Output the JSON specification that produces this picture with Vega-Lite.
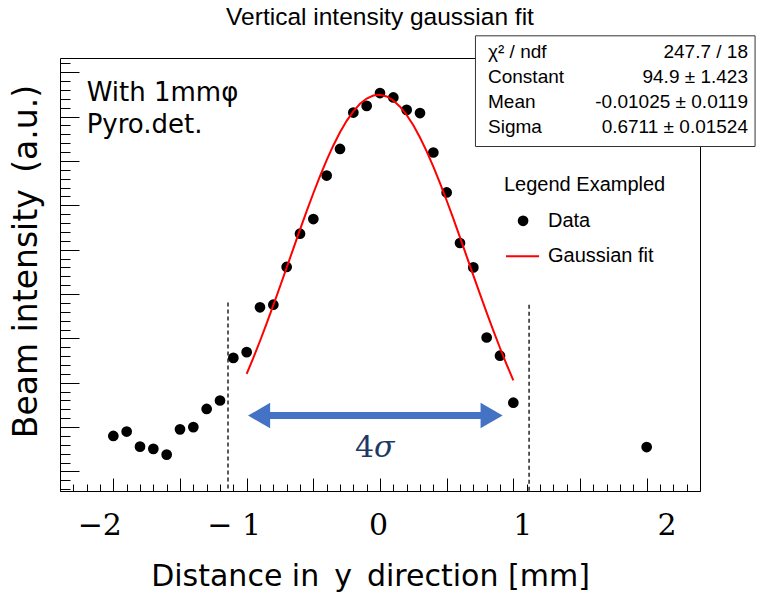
{
  "$schema": "https://vega.github.io/schema/vega-lite/v6.json",
  "width": 640,
  "height": 433,
  "autosize": {"type": "none"},
  "padding": {"left": 60, "top": 58, "right": 61, "bottom": 103},
  "background": "white",
  "config": {"view": {"stroke": "black", "strokeWidth": 1}, "font": "Liberation Sans"},
  "title": {"text": "Vertical intensity gaussian fit", "font": "Liberation Sans", "fontSize": 24.5, "fontWeight": "normal", "color": "black", "anchor": "middle", "frame": "group", "baseline": "alphabetic", "offset": 32, "dy": 46},
  "datasets": {
    "points": [
      {"x": -2.0, "y": 18.0}, {"x": -1.9, "y": 19.0}, {"x": -1.8, "y": 15.6}, {"x": -1.7, "y": 15.1},
      {"x": -1.6, "y": 13.8}, {"x": -1.5, "y": 19.5}, {"x": -1.4, "y": 20.0}, {"x": -1.3, "y": 24.1},
      {"x": -1.2, "y": 26.0}, {"x": -1.1, "y": 35.6}, {"x": -1.0, "y": 36.9}, {"x": -0.9, "y": 47.0},
      {"x": -0.8, "y": 47.6}, {"x": -0.7, "y": 56.1}, {"x": -0.6, "y": 63.6}, {"x": -0.5, "y": 66.9},
      {"x": -0.4, "y": 76.7}, {"x": -0.3, "y": 82.7}, {"x": -0.2, "y": 90.9}, {"x": -0.1, "y": 92.4},
      {"x": 0.0, "y": 95.3}, {"x": 0.1, "y": 94.3}, {"x": 0.2, "y": 91.5}, {"x": 0.3, "y": 90.8},
      {"x": 0.4, "y": 81.9}, {"x": 0.5, "y": 72.9}, {"x": 0.6, "y": 61.5}, {"x": 0.7, "y": 56.0},
      {"x": 0.8, "y": 40.2}, {"x": 0.9, "y": 36.1}, {"x": 1.0, "y": 25.5}, {"x": 2.0, "y": 15.5}
    ],
    "fit": [
      {"x": -1.00, "y": 31.99}, {"x": -0.95, "y": 35.60}, {"x": -0.90, "y": 39.41}, {"x": -0.85, "y": 43.38},
      {"x": -0.80, "y": 47.48}, {"x": -0.75, "y": 51.69}, {"x": -0.70, "y": 55.96}, {"x": -0.65, "y": 60.25},
      {"x": -0.60, "y": 64.50}, {"x": -0.55, "y": 68.68}, {"x": -0.50, "y": 72.72}, {"x": -0.45, "y": 76.57},
      {"x": -0.40, "y": 80.17}, {"x": -0.35, "y": 83.49}, {"x": -0.30, "y": 86.46}, {"x": -0.25, "y": 89.03},
      {"x": -0.20, "y": 91.18}, {"x": -0.15, "y": 92.87}, {"x": -0.10, "y": 94.06}, {"x": -0.05, "y": 94.73},
      {"x": 0.00, "y": 94.89}, {"x": 0.05, "y": 94.52}, {"x": 0.10, "y": 93.63}, {"x": 0.15, "y": 92.23},
      {"x": 0.20, "y": 90.36}, {"x": 0.25, "y": 88.03}, {"x": 0.30, "y": 85.28}, {"x": 0.35, "y": 82.17},
      {"x": 0.40, "y": 78.73}, {"x": 0.45, "y": 75.01}, {"x": 0.50, "y": 71.08}, {"x": 0.55, "y": 66.98},
      {"x": 0.60, "y": 62.76}, {"x": 0.65, "y": 58.49}, {"x": 0.70, "y": 54.21}, {"x": 0.75, "y": 49.96},
      {"x": 0.80, "y": 45.79}, {"x": 0.85, "y": 41.73}, {"x": 0.90, "y": 37.83}, {"x": 0.95, "y": 34.10},
      {"x": 1.00, "y": 30.56}
    ],
    "dashes": [{"x": -1.14, "y": 48.1, "y2": 5.6}, {"x": 1.118, "y": 47.6, "y2": 5.6}],
    "arrow": [{"x": -0.907, "x2": 0.837, "y": 22.6}],
    "headLeft": [{"x": -0.907, "y": 22.6}],
    "headRight": [{"x": 0.837, "y": 22.6}],
    "four": [{"x": -0.045, "y": 13.3, "t": "4"}],
    "sigma": [{"x": -0.045, "y": 13.3, "t": "σ"}],
    "note": [{"x": -2.2, "y": 93.6, "t": "With 1mmφ"}, {"x": -2.2, "y": 86.3, "t": "Pyro.det."}],
    "statsbox": [{"x": 0.716, "x2": 2.813, "y": 108.2, "y2": 83.25}],
    "stats": [
      {"x": 0.81, "xr": 2.76, "y": 104.6, "name": "χ² / ndf", "val": "247.7 / 18"},
      {"x": 0.81, "xr": 2.76, "y": 99.0, "name": "Constant", "val": "94.9 ± 1.423"},
      {"x": 0.81, "xr": 2.76, "y": 93.3, "name": "Mean", "val": "-0.01025 ± 0.0119"},
      {"x": 0.81, "xr": 2.76, "y": 87.7, "name": "Sigma", "val": "0.6711 ± 0.01524"}
    ],
    "legtext": [
      {"x": 0.93, "y": 74.6, "t": "Legend Exampled"},
      {"x": 1.26, "y": 66.5, "t": "Data"},
      {"x": 1.26, "y": 58.5, "t": "Gaussian fit"}
    ],
    "legpoint": [{"x": 1.073, "y": 66.5}],
    "legline": [{"x": 0.945, "x2": 1.193, "y": 58.5}]
  },
  "encoding": {
    "x": {
      "field": "x", "type": "quantitative",
      "scale": {"domain": [-2.4, 2.4], "nice": false, "zero": false},
      "axis": {
        "values": [-2.4,-2.3,-2.2,-2.1,-2.0,-1.9,-1.8,-1.7,-1.6,-1.5,-1.4,-1.3,-1.2,-1.1,-1.0,-0.9,-0.8,-0.7,-0.6,-0.5,-0.4,-0.3,-0.2,-0.1,0,0.1,0.2,0.3,0.4,0.5,0.6,0.7,0.8,0.9,1.0,1.1,1.2,1.3,1.4,1.5,1.6,1.7,1.8,1.9,2.0,2.1,2.2,2.3,2.4],
        "tickSize": {"condition": {"test": "abs(datum.value*2 - round(datum.value*2)) < 0.01", "value": -13}, "value": -7},
        "tickColor": "black", "tickWidth": 1,
        "domain": false, "grid": false,
        "labelExpr": "abs(datum.value - round(datum.value)) < 0.01 ? (round(datum.value) == -1 ? '− 1' : round(datum.value) < 0 ? '−' + abs(round(datum.value)) : '' + round(datum.value)) : ''",
        "labelOffset": {"condition": [
          {"test": "abs(datum.value + 2) < 0.01", "value": -14},
          {"test": "abs(datum.value + 1) < 0.01", "value": -13},
          {"test": "abs(datum.value - 1) < 0.01", "value": 9},
          {"test": "abs(datum.value - 2) < 0.01", "value": 20}
        ], "value": -2},
        "labelFont": "DejaVu Serif", "labelFontSize": 30, "labelColor": "black", "labelPadding": 32,
        "labelOverlap": false, "labelFlush": false,
        "title": "Distance in\u2002y\u2002direction [mm]",
        "titleFont": "DejaVu Sans", "titleFontSize": 30, "titleFontWeight": "normal", "titleColor": "black",
        "titleX": 310, "titleY": 94, "titleAlign": "center", "titleBaseline": "alphabetic"
      }
    },
    "y": {
      "field": "y", "type": "quantitative",
      "scale": {"domain": [5.6, 103.2], "nice": false, "zero": false},
      "axis": {
        "values": [6,8,10,12,14,16,18,20,22,24,26,28,30,32,34,36,38,40,42,44,46,48,50,52,54,56,58,60,62,64,66,68,70,72,74,76,78,80,82,84,86,88,90,92,94,96,98,100,102],
        "tickSize": {"condition": {"test": "datum.value % 10 === 0", "value": -19}, "value": -10},
        "tickColor": "black", "tickWidth": 1,
        "labels": false, "domain": false, "grid": false,
        "title": "Beam intensity\u2002(a.u.)",
        "titleFont": "DejaVu Sans", "titleFontSize": 33, "titleFontWeight": "normal", "titleColor": "black",
        "titleAngle": -90, "titleX": -24, "titleY": 203, "titleAlign": "center", "titleBaseline": "alphabetic"
      }
    }
  },
  "layer": [
    {"data": {"name": "dashes"}, "mark": {"type": "rule", "color": "black", "strokeWidth": 1.3, "strokeDash": [4, 3]}, "encoding": {"y2": {"field": "y2"}}},
    {"data": {"name": "points"}, "mark": {"type": "circle", "size": 115, "color": "black", "opacity": 1}},
    {"data": {"name": "fit"}, "mark": {"type": "line", "color": "#ff0000", "strokeWidth": 2}},
    {"data": {"name": "arrow"}, "mark": {"type": "rule", "color": "#4472C4", "strokeWidth": 7}, "encoding": {"x2": {"field": "x2"}}},
    {"data": {"name": "headLeft"}, "mark": {"type": "point", "shape": "triangle-left", "filled": true, "size": 650, "color": "#4472C4", "opacity": 1}},
    {"data": {"name": "headRight"}, "mark": {"type": "point", "shape": "triangle-right", "filled": true, "size": 650, "color": "#4472C4", "opacity": 1}},
    {"data": {"name": "four"}, "mark": {"type": "text", "font": "DejaVu Serif", "fontSize": 30, "color": "#203864", "align": "right", "baseline": "alphabetic"}, "encoding": {"text": {"field": "t"}}},
    {"data": {"name": "sigma"}, "mark": {"type": "text", "font": "DejaVu Serif", "fontSize": 30, "fontStyle": "italic", "color": "#203864", "align": "left", "baseline": "alphabetic"}, "encoding": {"text": {"field": "t"}}},
    {"data": {"name": "note"}, "mark": {"type": "text", "font": "DejaVu Sans", "fontSize": 26, "color": "black", "align": "left", "baseline": "alphabetic"}, "encoding": {"text": {"field": "t"}}},
    {"data": {"name": "statsbox"}, "mark": {"type": "rect", "fill": "white", "stroke": "#333333", "strokeWidth": 1}, "encoding": {"x2": {"field": "x2"}, "y2": {"field": "y2"}}},
    {"data": {"name": "stats"}, "mark": {"type": "text", "font": "Liberation Sans", "fontSize": 19, "color": "black", "align": "left", "baseline": "middle"}, "encoding": {"text": {"field": "name"}}},
    {"data": {"name": "stats"}, "mark": {"type": "text", "font": "Liberation Sans", "fontSize": 19, "color": "black", "align": "right", "baseline": "middle"}, "encoding": {"x": {"field": "xr", "type": "quantitative", "scale": {"domain": [-2.4, 2.4], "nice": false, "zero": false}}, "text": {"field": "val"}}},
    {"data": {"name": "legtext"}, "mark": {"type": "text", "font": "Liberation Sans", "fontSize": 20, "color": "black", "align": "left", "baseline": "middle"}, "encoding": {"text": {"field": "t"}}},
    {"data": {"name": "legpoint"}, "mark": {"type": "circle", "size": 115, "color": "black", "opacity": 1}},
    {"data": {"name": "legline"}, "mark": {"type": "rule", "color": "#ff0000", "strokeWidth": 2}, "encoding": {"x2": {"field": "x2"}}}
  ]
}
